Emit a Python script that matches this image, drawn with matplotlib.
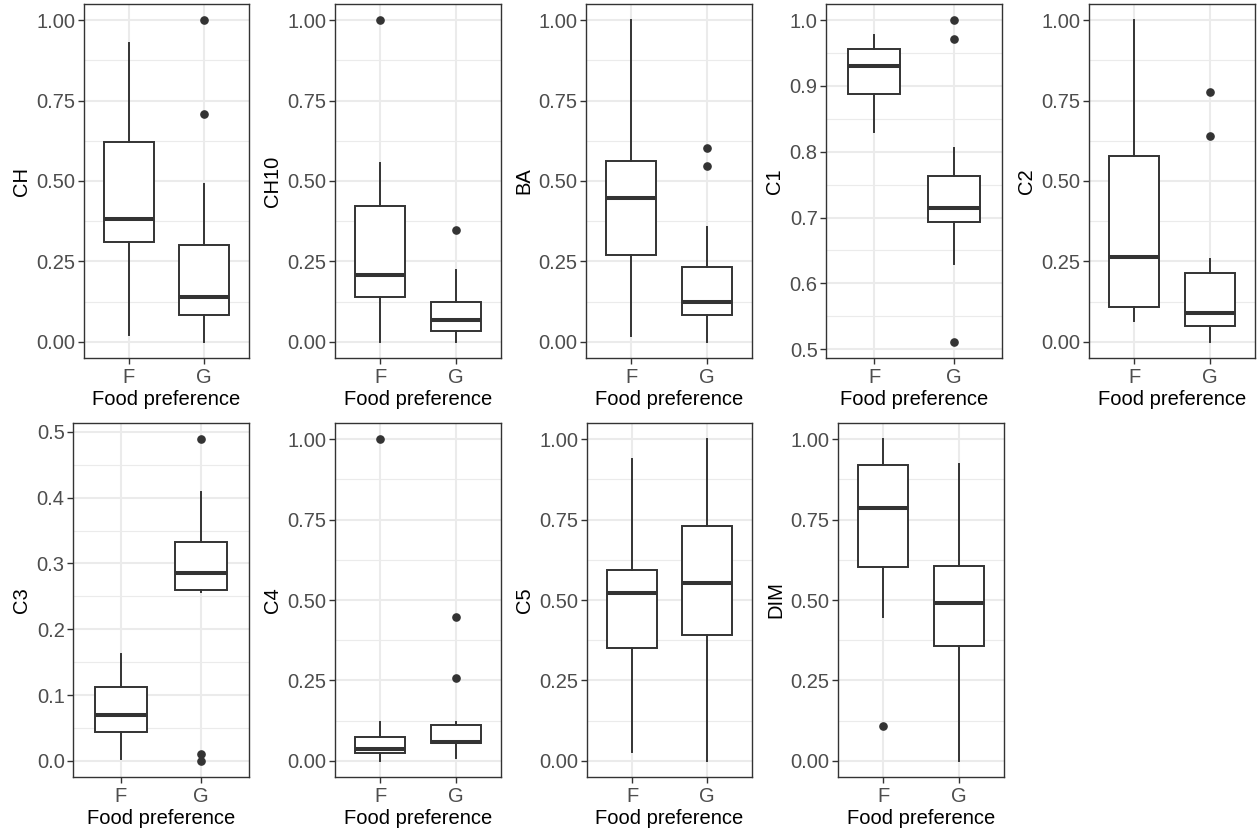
import matplotlib
matplotlib.use("Agg")
import matplotlib.pyplot as plt
from matplotlib.ticker import FixedLocator, FormatStrFormatter
import numpy as np

plt.rcParams['font.family'] = ['Liberation Sans', 'DejaVu Sans']

variables = ["CH", "CH10", "BA", "C1", "C2", "C3", "C4", "C5", "DIM"]
groups = ["F", "G"]

# five-number summaries (low whisker, Q1, median, Q3, high whisker)
f_low  = [0.021, 0.000, 0.018, 0.830, 0.066, 0.003, 0.000, 0.028, 0.447]
f_q1   = [0.310, 0.139, 0.269, 0.888, 0.109, 0.044, 0.026, 0.351, 0.602]
f_med  = [0.383, 0.208, 0.448, 0.931, 0.264, 0.069, 0.037, 0.522, 0.786]
f_q3   = [0.621, 0.421, 0.562, 0.956, 0.578, 0.113, 0.075, 0.592, 0.921]
f_high = [0.928, 0.556, 1.000, 0.977, 1.000, 0.163, 0.120, 0.938, 1.000]
f_out  = [[], [1.0], [], [], [], [], [1.0], [], [0.108]]

g_low  = [0.000, 0.000, 0.000, 0.630, 0.000, 0.257, 0.010, 0.000, 0.000]
g_q1   = [0.084, 0.035, 0.083, 0.693, 0.048, 0.260, 0.057, 0.390, 0.357]
g_med  = [0.139, 0.068, 0.125, 0.714, 0.089, 0.285, 0.060, 0.554, 0.492]
g_q3   = [0.300, 0.124, 0.232, 0.763, 0.214, 0.332, 0.1125, 0.730, 0.607]
g_high = [0.492, 0.223, 0.357, 0.806, 0.257, 0.409, 0.120, 1.000, 0.922]
g_out  = [[1.0, 0.708], [0.349], [0.602, 0.547], [1.0, 0.971, 0.511],
          [0.776, 0.639], [0.489, 0.011, 0.0], [0.448, 0.258], [], []]

# y tick sets
ticks_quarter = [0.0, 0.25, 0.5, 0.75, 1.0]
ticks_c1 = [0.5, 0.6, 0.7, 0.8, 0.9, 1.0]
ticks_c3 = [0.0, 0.1, 0.2, 0.3, 0.4, 0.5]
y_ticks = [ticks_quarter, ticks_quarter, ticks_quarter, ticks_c1, ticks_quarter,
           ticks_c3, ticks_quarter, ticks_quarter, ticks_quarter]
y_fmt = ["%.2f", "%.2f", "%.2f", "%.1f", "%.2f", "%.1f", "%.2f", "%.2f", "%.2f"]

W, H = 1257, 830
fig = plt.figure(figsize=(W / 100, H / 100), dpi=100)

# panel rectangles in pixels (left, top, right, bottom)
rects = [
    (84, 4, 249, 358), (335, 4, 501, 358), (586, 4, 752, 358),
    (826, 4, 1002, 358), (1089, 4, 1255, 358),
    (73, 423, 249, 777), (335, 423, 501, 777), (587, 423, 752, 777),
    (838, 423, 1004, 777),
]

grey20 = "#333333"
grid_col = "#EBEBEB"

for i, var in enumerate(variables):
    l, t, r, b = rects[i]
    ax = fig.add_axes([l / W, (H - b) / H, (r - l) / W, (b - t) / H])
    stats = [
        dict(whislo=f_low[i], q1=f_q1[i], med=f_med[i], q3=f_q3[i],
             whishi=f_high[i], fliers=f_out[i], label=groups[0]),
        dict(whislo=g_low[i], q1=g_q1[i], med=g_med[i], q3=g_q3[i],
             whishi=g_high[i], fliers=g_out[i], label=groups[1]),
    ]
    ax.bxp(stats, positions=[1, 2], widths=0.66, showcaps=False,
           patch_artist=True,
           boxprops=dict(facecolor="white", edgecolor=grey20, linewidth=1.4),
           whiskerprops=dict(color=grey20, linewidth=1.4),
           medianprops=dict(color=grey20, linewidth=2.9, solid_capstyle="butt"),
           flierprops=dict(marker="o", markerfacecolor=grey20,
                           markeredgecolor=grey20, markersize=5.2),
           zorder=3)
    allv = [f_low[i], f_high[i], g_low[i], g_high[i]] + f_out[i] + g_out[i]
    lo, hi = min(allv), max(allv)
    pad = (hi - lo) * 0.05
    ax.set_ylim(lo - pad, hi + pad)
    ax.set_xlim(0.4, 2.6)

    yt = y_ticks[i]
    ax.yaxis.set_major_locator(FixedLocator(yt))
    step = yt[1] - yt[0]
    minors = [v + step / 2 for v in [yt[0] - step] + yt]
    ax.yaxis.set_minor_locator(FixedLocator(minors))
    ax.yaxis.set_major_formatter(FormatStrFormatter(y_fmt[i]))
    ax.set_xticks([1, 2])
    ax.set_xticklabels(groups)

    ax.grid(True, which="major", color=grid_col, linewidth=1.5, zorder=0)
    ax.grid(True, which="minor", axis="y", color=grid_col, linewidth=0.8, zorder=0)
    ax.set_axisbelow(True)

    ax.tick_params(axis="both", which="major", length=4, width=1.0,
                   color=grey20, labelsize=14.5, labelcolor="#4D4D4D", pad=2)
    ax.tick_params(axis="y", which="minor", length=0)
    ax.tick_params(axis="x", which="major", pad=3)
    for s in ax.spines.values():
        s.set_color(grey20)
        s.set_linewidth(1.0)

    ax.set_xlabel("Food preference", fontsize=14.5, color="black", labelpad=2)
    ax.set_ylabel(var, fontsize=14.5, color="black", labelpad=4)

fig.savefig("out.png", dpi=100, facecolor="white")
